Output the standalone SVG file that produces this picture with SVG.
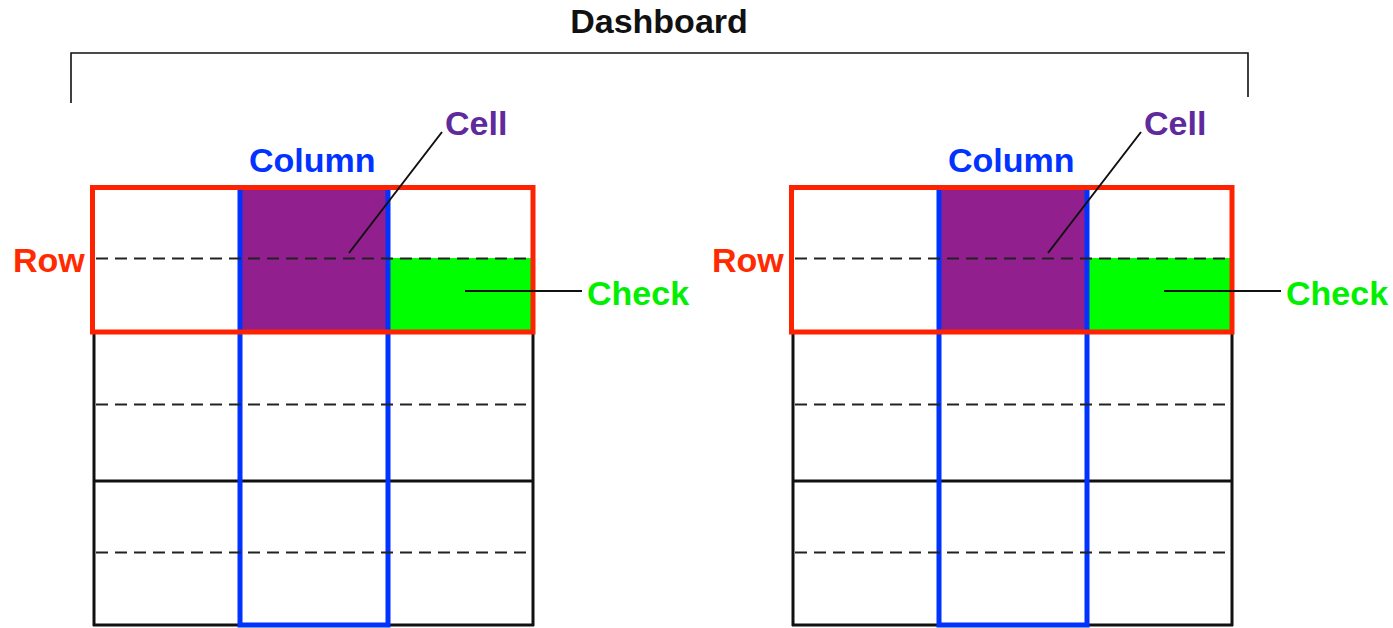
<svg xmlns="http://www.w3.org/2000/svg" width="1393" height="628" viewBox="0 0 1393 628">
<style>
text{font-family:"Liberation Sans",Arial,sans-serif;font-weight:bold;font-size:34px}
.row{fill:#FF2A00}.col{fill:#0033FF}.cell{fill:#5E2A9C}.chk{fill:#00F000}
.dash{stroke:#222;stroke-width:2;stroke-dasharray:12 7;fill:none}
.blk{stroke:#111;stroke-width:3;fill:none}
.blue{stroke:#0033FF;stroke-width:5;fill:none}
.red{stroke:#FF2200;stroke-width:5;fill:none}
.lead{stroke:#111;stroke-width:2;fill:none}
</style>
<g id="dashboard">
<text x="659" y="33" text-anchor="middle" fill="#111">Dashboard</text>
<path d="M71 103V53H1248V97" stroke="#111" stroke-width="1.6" fill="none"/>
</g>
<g id="grid-left">
<rect x="240" y="189" width="148" height="142" fill="#921F8E"/>
<rect x="388" y="258" width="144" height="73" fill="#00FF00"/>
<path class="blk" d="M94 332V626M533 332V626M93 481H534M93 625H534"/>
<path class="blue" d="M240 188V625H388V188"/>
<path class="dash" d="M96 258.5H531M96 404.5H531M96 552.5H531"/>
<rect class="red" x="92.5" y="187.5" width="440.5" height="144.5"/>
</g>
<g id="grid-right" transform="translate(699,0)">
<rect x="240" y="189" width="148" height="142" fill="#921F8E"/>
<rect x="388" y="258" width="144" height="73" fill="#00FF00"/>
<path class="blk" d="M94 332V626M533 332V626M93 481H534M93 625H534"/>
<path class="blue" d="M240 188V625H388V188"/>
<path class="dash" d="M96 258.5H531M96 404.5H531M96 552.5H531"/>
<rect class="red" x="92.5" y="187.5" width="440.5" height="144.5"/>
</g>
<g id="connectors">
<path class="lead" d="M442 132L349 253M465 291H582"/>
<path class="lead" d="M1141 132L1048 253M1164 291H1281"/>
</g>
<g id="labels-left">
<text class="row" x="13" y="272">Row</text>
<text class="col" x="249" y="172">Column</text>
<text class="cell" x="445" y="135">Cell</text>
<text class="chk" x="587" y="305">Check</text>
</g>
<g id="labels-right">
<text class="row" x="712" y="272">Row</text>
<text class="col" x="948" y="172">Column</text>
<text class="cell" x="1144" y="135">Cell</text>
<text class="chk" x="1286" y="305">Check</text>
</g>
</svg>
